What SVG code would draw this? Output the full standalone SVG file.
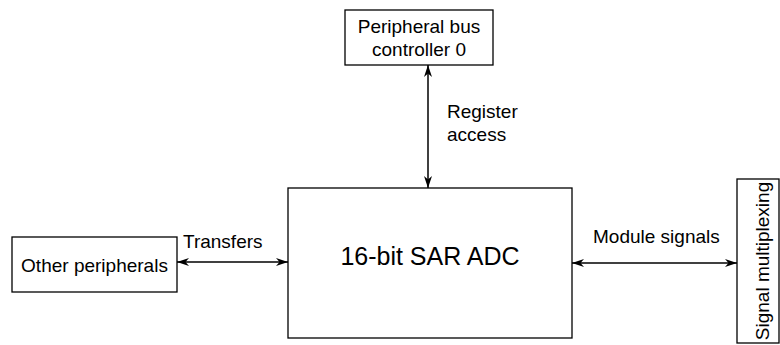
<svg xmlns="http://www.w3.org/2000/svg" width="780" height="345" viewBox="0 0 780 345">
<style>
.box{fill:#fff;stroke:#000;stroke-width:1.3}
.t{font-family:"Liberation Sans",Arial,sans-serif;font-size:19px;fill:#000}
.big{font-family:"Liberation Sans",Arial,sans-serif;font-size:25px;fill:#000}
.c{stroke:#000;stroke-width:1.5;fill:none;marker-start:url(#ah);marker-end:url(#ah)}
</style>
<defs>
<marker id="ah" viewBox="0 0 12 8" refX="12" refY="4" markerWidth="12" markerHeight="8" markerUnits="userSpaceOnUse" orient="auto-start-reverse">
<path d="M0,0 L12,4 L0,8 L3.5,4 z" fill="#000"/>
</marker>
</defs>
<g id="connectors">
<line class="c" x1="428" y1="65" x2="428" y2="188"/>
<line class="c" x1="177" y1="262" x2="288" y2="262"/>
<line class="c" x1="572" y1="263" x2="737" y2="263"/>
<text class="t" x="447" y="118">Register</text>
<text class="t" x="447" y="141">access</text>
<text class="t" x="183" y="248">Transfers</text>
<text class="t" x="593" y="243">Module signals</text>
</g>
<g id="pbc">
<rect class="box" x="345" y="10" width="148" height="55"/>
<text class="t" x="419" y="33" text-anchor="middle">Peripheral bus</text>
<text class="t" x="419" y="56" text-anchor="middle">controller 0</text>
</g>
<g id="adc">
<rect class="box" x="288" y="188" width="284" height="150"/>
<text class="big" x="430" y="265" text-anchor="middle">16-bit SAR ADC</text>
</g>
<g id="other">
<rect class="box" x="12" y="237" width="165" height="55"/>
<text class="t" x="94.5" y="272" text-anchor="middle">Other peripherals</text>
</g>
<g id="mux">
<rect class="box" x="737" y="179" width="42" height="164"/>
<text class="t" transform="translate(769,261) rotate(-90)" text-anchor="middle">Signal multiplexing</text>
</g>
</svg>
